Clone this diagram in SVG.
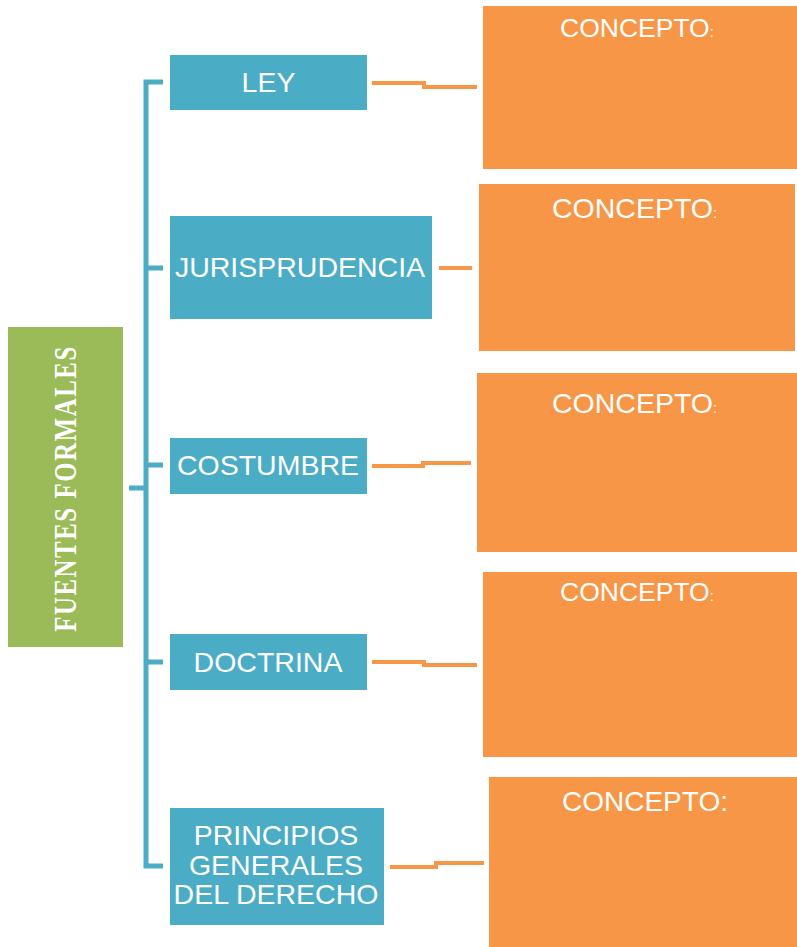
<svg xmlns="http://www.w3.org/2000/svg" width="797" height="947" viewBox="0 0 797 947">
<style>
.blue{fill:#4BACC6}
.orange{fill:#F79646}
.green{fill:#9BBB59}
.bt{font-family:"Liberation Sans",Arial,sans-serif;font-size:28.5px;fill:#fff;text-anchor:middle}
.ct{font-family:"Liberation Sans",Arial,sans-serif;fill:#fff}
.br{stroke:#4BACC6;stroke-width:5;fill:none}
.oc{stroke:#F79646;stroke-width:4;fill:none}
</style>
<rect width="797" height="947" fill="#fff"/>
<g id="fuentes">
<rect class="green" x="8" y="327" width="115" height="320"/>
<text transform="translate(76,488.5) rotate(-90) scale(0.8,1)" x="0" y="0" text-anchor="middle" font-family="'Liberation Serif','Times New Roman',serif" font-weight="bold" font-size="31" letter-spacing="2" fill="#fff">FUENTES FORMALES</text>
</g>
<g id="connectors">
<path class="br" d="M129,488 H146 M163,82 H146 V866 H163 M146,268 H163 M146,465 H163 M146,662 H163"/>
<path class="oc" d="M372,83 H424 V87 H477"/>
<path class="oc" d="M439,268 H472"/>
<path class="oc" d="M372,466 H423 V463 H471"/>
<path class="oc" d="M372,662 H424 V665 H477"/>
<path class="oc" d="M390,867 H436 V863 H484"/>
</g>
<g id="ley">
<rect class="blue" x="170" y="55" width="197" height="55"/>
<text class="bt" x="268.5" y="92">LEY</text>
</g>
<g id="jurisprudencia">
<rect class="blue" x="170" y="216" width="262" height="103"/>
<text class="bt" x="300" y="277">JURISPRUDENCIA</text>
</g>
<g id="costumbre">
<rect class="blue" x="170" y="438" width="197" height="56"/>
<text class="bt" x="268" y="475">COSTUMBRE</text>
</g>
<g id="doctrina">
<rect class="blue" x="170" y="634" width="197" height="56"/>
<text class="bt" x="268" y="672">DOCTRINA</text>
</g>
<g id="principios">
<rect class="blue" x="170" y="808" width="214" height="117"/>
<text class="bt" x="276" y="845">PRINCIPIOS</text>
<text class="bt" x="276" y="875">GENERALES</text>
<text class="bt" x="276" y="904">DEL DERECHO</text>
</g>
<g id="concepto1">
<rect class="orange" x="483" y="6" width="314" height="163"/>
<text class="ct" x="560" y="37" font-size="26.5">CONCEPTO<tspan font-size="14">:</tspan></text>
</g>
<g id="concepto2">
<rect class="orange" x="479" y="184" width="316" height="167"/>
<text class="ct" x="552" y="218" font-size="28.5">CONCEPTO<tspan font-size="14">:</tspan></text>
</g>
<g id="concepto3">
<rect class="orange" x="477" y="373" width="320" height="179"/>
<text class="ct" x="552" y="413" font-size="28.5">CONCEPTO<tspan font-size="14">:</tspan></text>
</g>
<g id="concepto4">
<rect class="orange" x="483" y="572" width="314" height="185"/>
<text class="ct" x="560" y="601" font-size="26.5">CONCEPTO<tspan font-size="14">:</tspan></text>
</g>
<g id="concepto5">
<rect class="orange" x="489" y="777" width="308" height="170"/>
<text class="ct" x="562" y="811" font-size="28">CONCEPTO:</text>
</g>
</svg>
